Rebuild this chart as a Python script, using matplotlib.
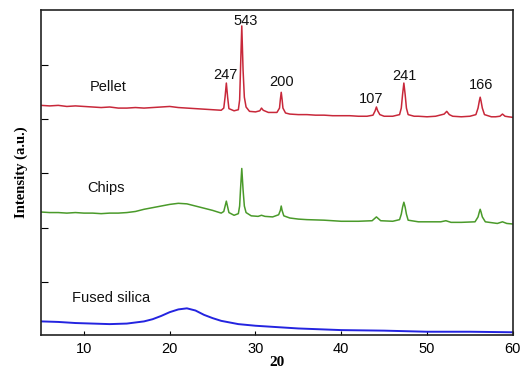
import matplotlib
matplotlib.use("Agg")
import matplotlib.pyplot as plt

pellet_x = [5, 6, 7, 8, 9, 10, 11, 12, 13, 14, 15, 16, 17, 18, 19, 20, 21, 22, 23, 24, 25, 26,
            26.3, 26.45, 26.6, 26.75, 26.9, 27.5, 28.0, 28.15, 28.25, 28.4, 28.55, 28.7, 28.9,
            29.3, 30, 30.5, 30.7, 30.9, 31.5,
            32.5, 32.8, 32.9, 33.0, 33.1, 33.2, 33.5, 34, 35, 36, 37, 38, 39, 40, 41, 42, 43,
            43.7, 43.95, 44.1, 44.25, 44.5,
            45, 46, 46.8, 47.0, 47.15, 47.3, 47.45, 47.6, 47.8, 48.5, 49, 50, 51, 52, 52.3, 52.6,
            53, 54, 55, 55.7, 55.95, 56.1, 56.2, 56.3, 56.45, 56.7, 57.5, 58, 58.5, 58.8, 59.1,
            59.5, 60]
pellet_y = [3.25, 3.24, 3.25, 3.23, 3.24, 3.23, 3.22, 3.21, 3.22, 3.20, 3.20, 3.21, 3.20, 3.21, 3.22,
            3.23, 3.21, 3.20, 3.19, 3.18, 3.17, 3.16,
            3.20, 3.40, 3.66, 3.40, 3.19, 3.15, 3.17, 3.35, 3.90, 4.71, 3.90, 3.40, 3.22,
            3.14, 3.13, 3.15, 3.20, 3.16, 3.12,
            3.12, 3.20, 3.36, 3.49, 3.36, 3.20, 3.11, 3.09, 3.08, 3.08, 3.07, 3.07, 3.06, 3.06,
            3.06, 3.05, 3.05,
            3.07, 3.15, 3.22, 3.15, 3.08,
            3.05, 3.05, 3.08, 3.20, 3.45, 3.66, 3.45, 3.20, 3.08, 3.05, 3.05, 3.04, 3.05, 3.09,
            3.14, 3.08,
            3.05, 3.04, 3.05, 3.08, 3.20, 3.33, 3.40, 3.33, 3.20, 3.08, 3.04, 3.04, 3.05, 3.09,
            3.05, 3.04, 3.03]

chips_x = [5, 6, 7, 8, 9, 10, 11, 12, 13, 14, 15, 16, 17, 18, 19, 20, 21, 22, 23, 24, 25, 26,
           26.3, 26.6, 26.9, 27.5, 28.0, 28.15, 28.25, 28.4, 28.55, 28.7, 28.9, 29.5, 30.3, 30.7,
           31.1, 32.0, 32.7, 32.9, 33.0, 33.1, 33.3, 34, 35, 36, 38, 40, 42, 43.6, 44.1, 44.6,
           46, 46.8, 47.0, 47.15, 47.3, 47.45, 47.6, 47.8, 49, 50, 51.6, 52.2, 52.8, 54, 55.6,
           55.95, 56.1, 56.2, 56.3, 56.45, 56.8, 58.2, 58.8, 59.3, 60]
chips_y = [1.29, 1.28, 1.28, 1.27, 1.28, 1.27, 1.27, 1.26, 1.27, 1.27, 1.28, 1.30, 1.34, 1.37, 1.40,
           1.43, 1.45, 1.44, 1.40, 1.36, 1.32, 1.27,
           1.30, 1.49, 1.28, 1.23, 1.26, 1.40, 1.70, 2.09, 1.70, 1.40, 1.28, 1.22, 1.21, 1.23,
           1.21, 1.20, 1.24, 1.32, 1.40, 1.32, 1.22, 1.18, 1.16, 1.15, 1.14, 1.12, 1.12, 1.13,
           1.20, 1.13,
           1.12, 1.15, 1.25, 1.38, 1.47, 1.38, 1.25, 1.14, 1.11, 1.11, 1.11, 1.13, 1.10, 1.10,
           1.11, 1.20, 1.29, 1.34, 1.29, 1.20, 1.11, 1.08, 1.11, 1.08, 1.07]

silica_x = [5, 7, 9, 11, 13, 15, 16, 17, 18, 19, 20, 21, 22, 23, 24, 25, 26, 27, 28, 30, 32, 35,
            40, 45, 50, 55, 60]
silica_y = [-0.72, -0.73, -0.75, -0.76, -0.77, -0.76, -0.74, -0.72, -0.68, -0.62, -0.55, -0.50,
            -0.48, -0.52, -0.60, -0.66, -0.71, -0.74, -0.77, -0.80, -0.82, -0.85, -0.88, -0.89,
            -0.91, -0.91, -0.92]

series_names = ["Pellet", "Chips", "Fused silica"]
series_label_pos = [(10.7, 3.58), (10.35, 1.73), (8.6, -0.29)]
peak_labels = ["247", "543", "200", "107", "241", "166"]
peak_label_pos = [(26.5, 3.80), (28.8, 4.80), (33.0, 3.68), (43.5, 3.36), (47.4, 3.79), (56.3, 3.62)]
x_ticks = [10, 20, 30, 40, 50, 60]
y_ticks = [0, 1, 2, 3, 4]

fig = plt.figure(figsize=(5.27, 3.70), dpi=100)
ax = fig.add_axes([0.078, 0.0946, 0.895, 0.878])

ax.plot(pellet_x, pellet_y, color="#c8283a", lw=1.1)
ax.plot(chips_x, chips_y, color="#4a9a2a", lw=1.1)
ax.plot(silica_x, silica_y, color="#2424e0", lw=1.4)

for name, (px, py) in zip(series_names, series_label_pos):
    ax.text(px, py, name, fontsize=10.5, family="Liberation Sans", ha="left", va="center", color="#111111")
for lab, (px, py) in zip(peak_labels, peak_label_pos):
    ax.text(px, py, lab, fontsize=10.5, family="Liberation Sans", ha="center", va="center", color="#111111")

ax.set_xlim(5, 60)
ax.set_ylim(-0.97, 5.0)
ax.set_xticks(x_ticks)
ax.set_yticks(y_ticks)
ax.set_yticklabels([])
ax.tick_params(axis="x", direction="in", length=3, labelsize=10.5, pad=5)
ax.tick_params(axis="y", direction="in", length=5)
for lab in ax.get_xticklabels():
    lab.set_family("Liberation Sans")
for s in ax.spines.values():
    s.set_linewidth(1.2)
    s.set_color("#222222")

ax.set_xlabel("20", fontsize=11, fontweight="bold", family="Liberation Serif", labelpad=0)
ax.set_ylabel("Intensity (a.u.)", fontsize=10.5, fontweight="bold", family="Liberation Serif", labelpad=6)

fig.savefig("out.png", dpi=100)
